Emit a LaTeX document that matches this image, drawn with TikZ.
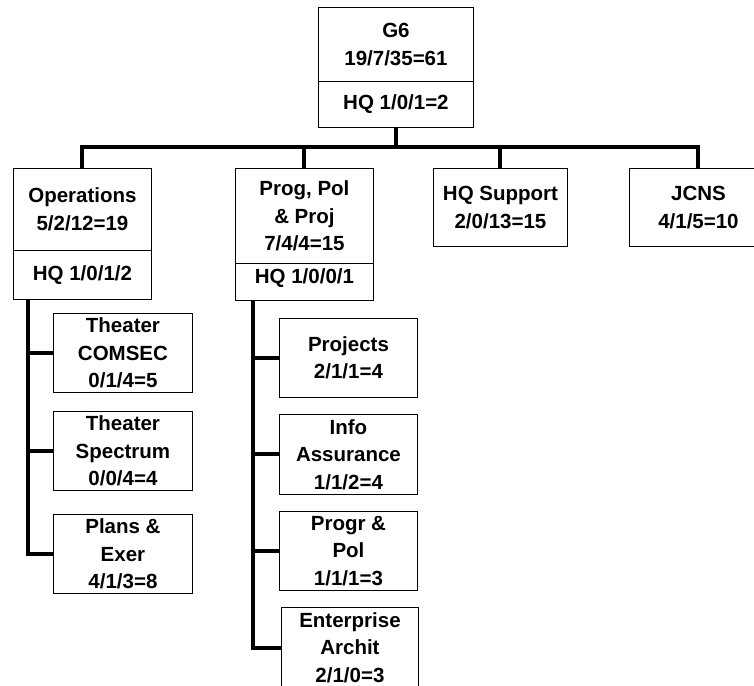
\documentclass[tikz,border=0pt]{standalone}
\usepackage{fontspec}
\setmainfont{Liberation Sans}
\begin{document}
\begin{tikzpicture}[x=1pt,y=-1pt,
  box/.style={draw,line width=0.9pt,anchor=north west,inner sep=0pt,align=center,
    font=\fontsize{20.5}{27.5}\selectfont\bfseries},
  conn/.style={line width=4pt,line join=miter,line cap=butt}]
\useasboundingbox (0,0) rectangle (754,685);

% top level
\node[box,minimum width=155pt,minimum height=74pt] (g6) at (318,7) {G6\\19/7/35=61};
\node[box,minimum width=155pt,minimum height=46pt] (g6hq) at (318,81) {HQ 1/0/1=2};

% second level
\node[box,minimum width=138pt,minimum height=82pt] (ops) at (13,168) {Operations\\5/2/12=19};
\node[box,minimum width=138pt,minimum height=49pt] (opshq) at (13,250) {HQ 1/0/1/2};
\node[box,minimum width=138pt,minimum height=95pt] (ppp) at (235,168) {Prog, Pol\\\& Proj\\7/4/4=15};
\node[box,minimum width=138pt,minimum height=37pt,text depth=12pt] (ppphq) at (235,263) {HQ 1/0/0/1};
\node[box,minimum width=134pt,minimum height=78pt] (hqs) at (433,168) {HQ Support\\2/0/13=15};
\node[box,minimum width=138pt,minimum height=78pt] (jcns) at (629,168) {JCNS\\4/1/5=10};

% operations branches
\node[box,minimum width=139pt,minimum height=79pt] (tcom) at (53,313) {Theater\\COMSEC\\0/1/4=5};
\node[box,minimum width=139pt,minimum height=79pt] (tspec) at (53,411) {Theater\\Spectrum\\0/0/4=4};
\node[box,minimum width=139pt,minimum height=79pt] (plans) at (53,514) {Plans \&\\Exer\\4/1/3=8};

% programs branches
\node[box,minimum width=138pt,minimum height=79pt] (proj) at (279,318) {Projects\\2/1/1=4};
\node[box,minimum width=138pt,minimum height=80pt] (info) at (279,414) {Info\\Assurance\\1/1/2=4};
\node[box,minimum width=138pt,minimum height=79pt] (progr) at (279,511) {Progr \&\\Pol\\1/1/1=3};
\node[box,minimum width=137pt,minimum height=80pt] (ent) at (281,607) {Enterprise\\Archit\\2/1/0=3};

% bus between levels
\coordinate (bus) at (0,147);
\draw[conn] (g6hq.south) -- (g6hq.south |- bus);
\draw[conn] (ops.north) -- (ops.north |- bus) -- (jcns.north |- bus) -- (jcns.north);
\draw[conn] (ppp.north) -- (ppp.north |- bus);
\draw[conn] (hqs.north) -- (hqs.north |- bus);

% operations spine
\coordinate (lsp) at (28,0);
\draw[conn] (lsp |- opshq.south) -- (lsp |- plans.west) -- (plans.west);
\draw[conn] (lsp |- tcom.west) -- (tcom.west);
\draw[conn] (lsp |- tspec.west) -- (tspec.west);

% programs spine
\coordinate (rsp) at (253,0);
\draw[conn] (rsp |- ppphq.south) -- (rsp |- 0,648) -- (ent.west |- 0,648);
\draw[conn] (rsp |- proj.west) -- (proj.west);
\draw[conn] (rsp |- info.west) -- (info.west);
\draw[conn] (rsp |- progr.west) -- (progr.west);
\end{tikzpicture}
\end{document}
